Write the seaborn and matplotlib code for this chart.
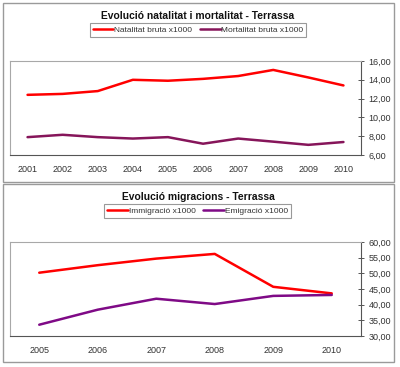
import matplotlib.pyplot as plt
import numpy as np
import seaborn as sns
from matplotlib.patches import Rectangle
from matplotlib.ticker import FuncFormatter

# top chart: births / deaths per 1000
years_top = ["2001", "2002", "2003", "2004", "2005", "2006", "2007", "2008", "2009", "2010"]
natalitat = [12.4, 12.5, 12.8, 14.0, 13.9, 14.1, 14.4, 15.05, 14.25, 13.4]
mortalitat = [7.9, 8.15, 7.9, 7.75, 7.9, 7.2, 7.75, 7.42, 7.08, 7.38]

# bottom chart: migration per 1000
years_bot = ["2005", "2006", "2007", "2008", "2009", "2010"]
immigracio = [50.2, 52.6, 54.7, 56.2, 45.7, 43.6]
emigracio = [33.6, 38.4, 41.9, 40.2, 42.8, 43.1]

W, H = 400, 367
RED = "#FF0000"
PURPLE_M = "#86155A"
PURPLE_E = "#7F0A86"
TXT = "#333333"

sns.set_theme(style="white")
plt.rcParams["font.family"] = ["Liberation Sans", "DejaVu Sans"]

fig = plt.figure(figsize=(W / 100, H / 100), dpi=100)
fig.patch.set_facecolor("white")


def px_rect(x0, y0, x1, y1):
    return (x0 / W, 1 - y1 / H, (x1 - x0) / W, (y1 - y0) / H)


# outer chart boxes
for (x0, y0, x1, y1) in [(3, 3, 394, 182), (3, 184, 394, 362)]:
    fig.patches.append(Rectangle((x0 / W, 1 - y1 / H), (x1 - x0) / W, (y1 - y0) / H,
                                 transform=fig.transFigure, fill=False,
                                 edgecolor="#9A9A9A", linewidth=1.0))


def style_axis(ax, labels, ylim, yticks):
    n = len(labels)
    ax.set_xlim(-0.5, n - 0.5)
    ax.set_ylim(*ylim)
    ax.set_xticks(np.arange(n))
    ax.set_xticklabels(labels)
    ax.set_xticks(np.arange(n + 1) - 0.5, minor=True)
    ax.tick_params(axis="x", which="major", length=0, labelsize=6.5, colors=TXT, pad=7)
    ax.tick_params(axis="x", which="minor", length=3, direction="out", color="#555555", width=0.7)
    ax.yaxis.tick_right()
    ax.set_yticks(yticks)
    ax.yaxis.set_major_formatter(FuncFormatter(lambda v, p: f"{v:.2f}".replace(".", ",")))
    ax.tick_params(axis="y", length=5, direction="inout", labelsize=6.5, colors=TXT,
                   color="#555555", width=0.7, pad=3)
    for side in ["top", "left"]:
        ax.spines[side].set_color("#A8A8A8")
        ax.spines[side].set_linewidth(0.8)
    for side in ["bottom", "right"]:
        ax.spines[side].set_color("#555555")
        ax.spines[side].set_linewidth(0.8)
    ax.set_xlabel("")
    ax.set_ylabel("")
    ax.grid(False)


def add_legend(handles, labels, cx, cy):
    leg = fig.legend(handles, labels, loc="center", bbox_to_anchor=(cx / W, 1 - cy / H), ncol=2,
                     fontsize=6, frameon=True, fancybox=False, handlelength=2.5,
                     handletextpad=0.1, columnspacing=0.9, borderpad=0.35, labelcolor=TXT)
    leg.get_frame().set_edgecolor("#808080")
    leg.get_frame().set_linewidth(0.8)
    return leg


# top chart
ax1 = fig.add_axes(px_rect(10, 61, 361, 155))
x_top = np.arange(len(years_top))
sns.lineplot(x=x_top, y=natalitat, ax=ax1, color=RED, linewidth=1.8, label="Natalitat bruta x1000")
sns.lineplot(x=x_top, y=mortalitat, ax=ax1, color=PURPLE_M, linewidth=1.8, label="Mortalitat bruta x1000")
style_axis(ax1, years_top, (6, 16), [6, 8, 10, 12, 14, 16])
h, l = ax1.get_legend_handles_labels()
ax1.get_legend().remove()
fig.text(198 / W, 1 - 16 / H, "Evolució natalitat i mortalitat - Terrassa",
         ha="center", va="center", fontsize=7.4, fontweight="bold", color="#111111")
add_legend(h, l, 198, 29.7)

# bottom chart
ax2 = fig.add_axes(px_rect(10, 242, 361, 336))
x_bot = np.arange(len(years_bot))
sns.lineplot(x=x_bot, y=immigracio, ax=ax2, color=RED, linewidth=1.8, label="Immigració x1000")
sns.lineplot(x=x_bot, y=emigracio, ax=ax2, color=PURPLE_E, linewidth=1.8, label="Emigració x1000")
style_axis(ax2, years_bot, (30, 60), [30, 35, 40, 45, 50, 55, 60])
h, l = ax2.get_legend_handles_labels()
ax2.get_legend().remove()
fig.text(198 / W, 1 - 197 / H, "Evolució migracions - Terrassa",
         ha="center", va="center", fontsize=7.4, fontweight="bold", color="#111111")
add_legend(h, l, 197.5, 211)

fig.savefig("out.png", dpi=100)
